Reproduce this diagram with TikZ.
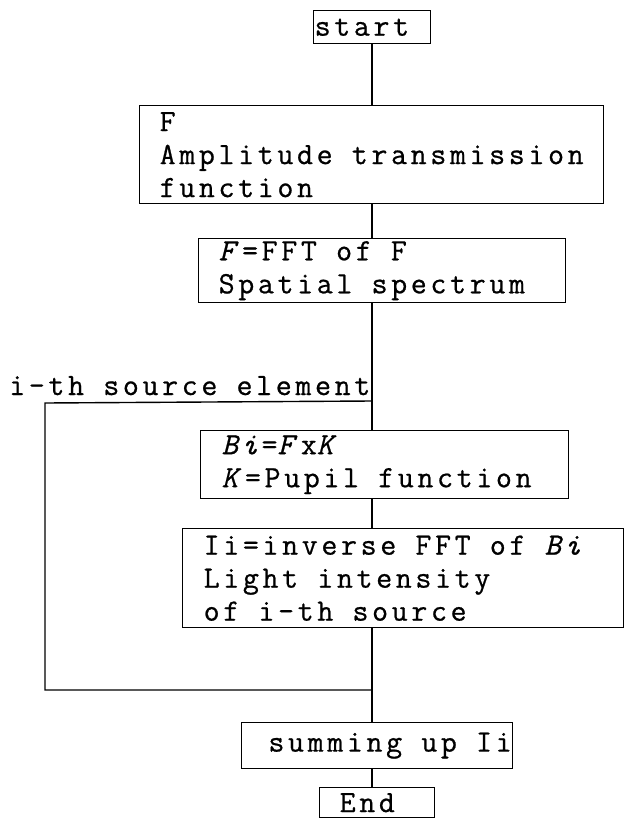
\documentclass[tikz,border=0pt]{standalone}
\usepackage{fontspec}
\setmonofont[LetterSpace=11.8, FakeBold=0.7]{Latin Modern Mono}
\begin{document}
\begin{tikzpicture}[x=1pt, y=-1pt, line width=1.4pt,
  font=\ttfamily\fontsize{31}{33}\selectfont,
  every node/.append style={execute at begin node={\spaceskip=19.2pt\xspaceskip=19.2pt}},
  box/.style={draw, rectangle, align=left, anchor=north west, inner ysep=0pt}]
  \useasboundingbox (0,0) rectangle (625,819);

  % Boxes of the main line
  \node [box, inner xsep=1pt, text width=115pt, minimum height=33pt] (start) at (313,10) {start};
  \node [box, inner xsep=20pt, text width=424pt, minimum height=98pt] (trans) at (139,105)
    {F\\Amplitude transmission\\function};
  \node [box, inner xsep=20pt, text width=327pt, minimum height=64pt] (spec) at (198,238)
    {\textit{F}=FFT of F\\Spatial spectrum};
  \node [box, inner xsep=21pt, text width=326pt, minimum height=68pt] (pupil) at (200,430)
    {\textit{Bi}=\textit{F}x\textit{K}\\\textit{K}=Pupil function};
  \node [box, inner xsep=21pt, text width=399pt, minimum height=99pt] (inten) at (182,528)
    {Ii=inverse FFT of \textit{Bi}\\Light intensity\\of i-th source};
  \node [box, inner xsep=1pt, text width=269pt, minimum height=46pt, align=right] (summ) at (241,722)
    {summing up Ii};
  \node [box, inner xsep=20pt, text width=75pt, minimum height=30pt] (stop) at (319,787) {End};

  % Trunk
  \coordinate (trunk) at (372,0);
  \coordinate (jtop) at (372,401);
  \coordinate (jbot) at (372,690);
  \coordinate (ltop) at (45,403);
  \draw (start.south -| trunk) -- (trans.north -| trunk);
  \draw (trans.south -| trunk) -- (spec.north -| trunk);
  \draw (spec.south -| trunk) -- (pupil.north -| trunk);
  \draw (pupil.south -| trunk) -- (inten.north -| trunk);
  \draw (inten.south -| trunk) -- (summ.north -| trunk);
  \draw (summ.south -| trunk) -- (stop.north -| trunk);

  % Loop over source elements
  \node [anchor=base east, inner sep=1pt] (elem) at (372,395) {i-th source element};
  \draw (jtop) -- (ltop) |- (jbot);
\end{tikzpicture}
\end{document}
